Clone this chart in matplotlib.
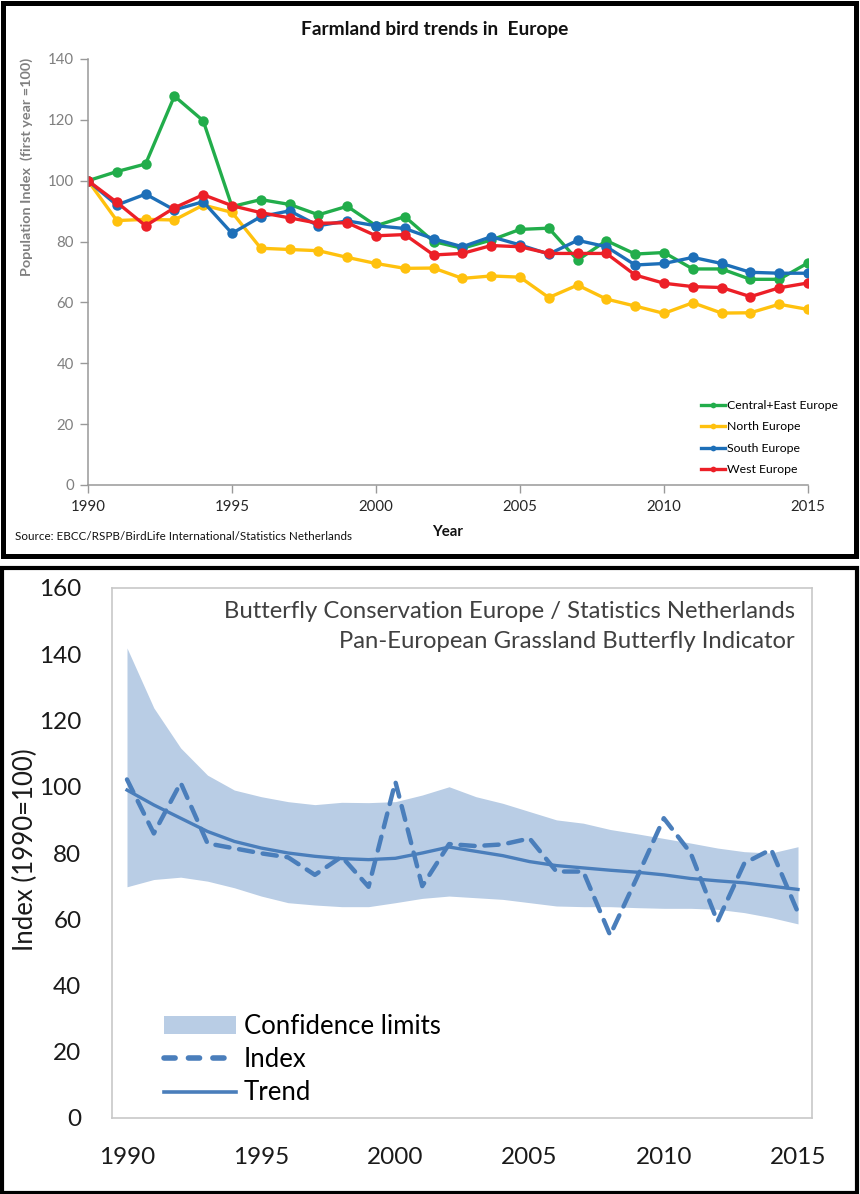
import matplotlib
matplotlib.use("Agg")
import matplotlib.pyplot as plt
from matplotlib.patches import Rectangle
from matplotlib.lines import Line2D
from matplotlib.patches import Patch

plt.rcParams["font.family"] = ["Lato", "DejaVu Sans"]

# ---------------- data: farmland birds ----------------
bird_years = list(range(1990, 2016))
central_east = [100, 103, 105.5, 127.8, 119.7, 91.5, 93.8, 92.2, 88.8, 91.6, 85.2, 88.2,
                80.0, 77.8, 80.5, 84.0, 84.4, 73.9, 80.3, 75.9, 76.4, 71.0, 71.0, 67.6, 67.6, 73.0]
north = [100, 86.9, 87.3, 87.1, 92.0, 89.6, 77.8, 77.4, 77.0, 74.8, 72.8, 71.2,
         71.3, 67.9, 68.7, 68.3, 61.6, 65.7, 61.1, 58.8, 56.4, 59.9, 56.5, 56.6, 59.4, 57.7]
south = [100, 92.0, 95.6, 90.4, 93.1, 82.7, 88.2, 90.1, 85.2, 86.8, 85.2, 84.3,
         80.9, 78.3, 81.6, 78.9, 75.9, 80.4, 78.3, 72.3, 72.8, 74.8, 72.8, 69.9, 69.6, 69.6]
west = [100, 92.9, 85.2, 91.1, 95.4, 91.8, 89.5, 87.8, 86.0, 86.2, 81.9, 82.3,
        75.6, 76.1, 78.7, 78.3, 76.1, 76.1, 76.1, 69.0, 66.3, 65.2, 64.9, 61.9, 64.8, 66.4]
bird_series = ["Central+East Europe", "North Europe", "South Europe", "West Europe"]
bird_colors = ["#22ad4b", "#ffc10e", "#1d6fb8", "#ec1f27"]
bird_ticks_x = [1990, 1995, 2000, 2005, 2010, 2015]
bird_ticks_y = [0, 20, 40, 60, 80, 100, 120, 140]

# ---------------- data: grassland butterflies ----------------
bfly_years = list(range(1990, 2016))
bfly_index = [102.2, 85.9, 101.2, 82.9, 81.4, 79.9, 78.7, 73.4, 78.9, 69.8, 101.5, 70.0,
              82.7, 82.1, 82.6, 84.4, 74.4, 74.4, 55.2, 72.6, 90.5, 80.0, 59.3, 76.9, 81.1, 62.0]
bfly_trend = [99.0, 94.5, 90.5, 86.5, 83.5, 81.5, 80.0, 79.0, 78.3, 78.0, 78.4, 80.0,
              81.8, 80.5, 79.2, 77.4, 76.2, 75.5, 74.8, 74.2, 73.4, 72.3, 71.6, 71.0, 70.0, 69.0]
bfly_upper = [141.9, 123.8, 111.7, 103.5, 99.0, 97.0, 95.5, 94.6, 95.3, 95.2, 95.5, 97.5,
              100.0, 97.0, 95.0, 92.5, 90.0, 89.0, 87.1, 85.8, 84.4, 83.0, 81.5, 80.4, 80.0, 81.9]
bfly_lower = [69.8, 72.0, 72.7, 71.5, 69.5, 67.0, 65.0, 64.3, 63.8, 63.8, 65.0, 66.3,
              67.0, 66.5, 66.0, 65.0, 64.0, 63.8, 63.8, 63.5, 63.3, 63.3, 63.0, 62.0, 60.5, 58.6]
bfly_ticks_x = [1990, 1995, 2000, 2005, 2010, 2015]
bfly_ticks_y = [0, 20, 40, 60, 80, 100, 120, 140, 160]

W, H = 860, 1194
fig = plt.figure(figsize=(W / 100, H / 100), dpi=100)


def fx(px):
    return px / W


def fy(py):
    return 1 - py / H


def axes_rect(left, top, right, bottom):
    return [fx(left), fy(bottom), fx(right) - fx(left), fy(top) - fy(bottom)]


# ================= top panel =================
ax1 = fig.add_axes(axes_rect(88, 59, 808, 485))
for values, label, color in zip([central_east, north, south, west], bird_series, bird_colors):
    ax1.plot(bird_years, values, color=color, lw=2.4, marker="o", markersize=7.5,
             markeredgewidth=0, label=label, solid_joinstyle="round")
ax1.set_xlim(1990, 2015)
ax1.set_ylim(0, 140)
ax1.set_xticks(bird_ticks_x)
ax1.set_yticks(bird_ticks_y)
for s in ["top", "right"]:
    ax1.spines[s].set_visible(False)
for s in ["left", "bottom"]:
    ax1.spines[s].set_color("#999999")
    ax1.spines[s].set_linewidth(1.1)
ax1.tick_params(axis="y", direction="out", length=6, width=1, color="#999999",
                labelsize=10.8, labelcolor="#7f7f7f", pad=4)
ax1.tick_params(axis="x", direction="out", length=6, width=1, color="#999999",
                labelsize=10.8, labelcolor="#262626", pad=5)
ax1.set_xlabel("Year", fontsize=10.8, fontweight="bold", color="#111111", labelpad=8)
ax1.legend(loc="upper left", bbox_to_anchor=(fx(690), fy(389)),
           bbox_transform=fig.transFigure, frameon=False, fontsize=8.8,
           handlelength=2.0, handletextpad=0.1, labelspacing=0.85,
           markerscale=0.55)

fig.text(fx(435), fy(30), "Farmland bird trends in  Europe", ha="center", va="center",
         fontsize=13.8, fontweight="bold", color="#111111")
fig.text(fx(27), fy(167), "Population Index  (first year =100)", rotation=90,
         ha="center", va="center", fontsize=10.4, fontweight="bold", color="#808080")
fig.text(fx(15), fy(537), "Source: EBCC/RSPB/BirdLife International/Statistics Netherlands",
         ha="left", va="center", fontsize=8.4, color="#111111")

# ================= bottom panel =================
ax2 = fig.add_axes(axes_rect(112, 588, 812, 1118))
ax2.fill_between(bfly_years, bfly_lower, bfly_upper, color="#b9cde5", lw=0,
                 label="Confidence limits")
ax2.plot(bfly_years, bfly_index, color="#4a7ebb", lw=3.2, linestyle=(0, (3.2, 2.2)),
         dash_capstyle="round", label="Index")
ax2.plot(bfly_years, bfly_trend, color="#4a7ebb", lw=2.4, label="Trend")
per_year = (798 - 127) / 25
ax2.set_xlim(1990 - 15 / per_year, 2015 + 14 / per_year)
ax2.set_ylim(0, 160)
ax2.set_xticks(bfly_ticks_x)
ax2.set_yticks(bfly_ticks_y)
for s in ax2.spines.values():
    s.set_color("#c8c8c8")
    s.set_linewidth(1.2)
ax2.tick_params(axis="both", length=0, labelsize=17.5, labelcolor="#1a1a1a")
ax2.tick_params(axis="y", pad=22)
ax2.tick_params(axis="x", pad=21)
fig.text(fx(25), fy(850), "Index (1990=100)", rotation=90, ha="center", va="center",
         fontsize=18.5, color="#1a1a1a")
fig.text(fx(795), fy(612), "Butterfly Conservation Europe / Statistics Netherlands",
         ha="right", va="center", fontsize=17.2, color="#404040")
fig.text(fx(795), fy(642), "Pan-European Grassland Butterfly Indicator",
         ha="right", va="center", fontsize=17.2, color="#404040")
handles2 = [Patch(facecolor="#b9cde5", edgecolor="none"),
            Line2D([], [], color="#4a7ebb", lw=4, linestyle=(0, (2.0, 2.4)),
                   dash_capstyle="round"),
            Line2D([], [], color="#4a7ebb", lw=2.6)]
ax2.legend(handles2, ["Confidence limits", "Index", "Trend"], loc="upper left",
           bbox_to_anchor=(fx(146), fy(996)), bbox_transform=fig.transFigure,
           frameon=False, fontsize=18.5, handlelength=2.8, handleheight=0.65,
           handletextpad=0.3, labelspacing=0.32, borderpad=0.2)

# ================= frames around both panels =================
fig.add_artist(Rectangle((fx(2.5), fy(555.5)), fx(853), fy(2.5) - fy(555.5),
                         transform=fig.transFigure, fill=False, edgecolor="black",
                         lw=3.6))
fig.add_artist(Rectangle((fx(1.5), fy(1192.5)), fx(855.5), fy(567.5) - fy(1192.5),
                         transform=fig.transFigure, fill=False, edgecolor="black",
                         lw=3.0))

fig.savefig("out.png", dpi=100)
